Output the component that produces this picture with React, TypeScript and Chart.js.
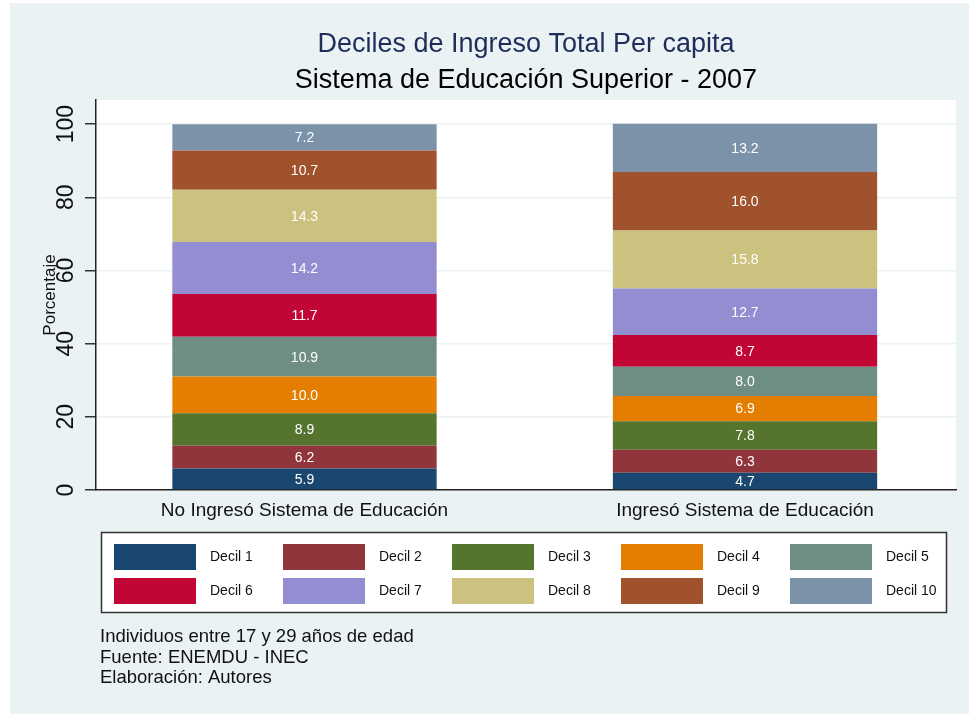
import React, { useEffect, useRef } from "react";
import { Chart, registerables } from "chart.js";

Chart.register(...registerables);

const categories = ["No Ingresó Sistema de Educación", "Ingresó Sistema de Educación"];
const categoryPositions = [1, 2];
const deciles = ["Decil 1", "Decil 2", "Decil 3", "Decil 4", "Decil 5", "Decil 6", "Decil 7", "Decil 8", "Decil 9", "Decil 10"];
const noIngreso = [5.9, 6.2, 8.9, 10.0, 10.9, 11.7, 14.2, 14.3, 10.7, 7.2];
const ingreso = [4.7, 6.3, 7.8, 6.9, 8.0, 8.7, 12.7, 15.8, 16.0, 13.2];
const colors = ["#1a476f", "#90353b", "#55752f", "#e37e00", "#6e8e84", "#c10534", "#938dd2", "#cac27e", "#a0522d", "#7b92a8"];
const yTicks = [0, 20, 40, 60, 80, 100];
const titleText = "Deciles de Ingreso Total Per capita";
const subtitleText = "Sistema de Educación Superior - 2007";
const yTitle = "Porcentaje";
const notes = ["Individuos entre 17 y 29 años de edad", "Fuente: ENEMDU - INEC", "Elaboración: Autores"];

const FONT = '"Liberation Sans", Arial, Helvetica, sans-serif';
const BG = "#eaf2f3";

const decorPlugin = {
  id: "decor",
  beforeDraw(chart: any) {
    const { ctx, chartArea } = chart;
    ctx.save();
    ctx.fillStyle = "#ffffff";
    ctx.fillRect(0, 0, chart.width, chart.height);
    ctx.fillStyle = BG;
    ctx.fillRect(10, 3, chart.width - 10, 711);
    ctx.fillStyle = "#ffffff";
    ctx.fillRect(chartArea.left, chartArea.top, chartArea.right - chartArea.left, chartArea.bottom - chartArea.top);
    ctx.restore();
  },
  afterDraw(chart: any) {
    const { ctx, chartArea } = chart;
    const cx = (chartArea.left + chartArea.right) / 2;
    ctx.save();
    // titles
    ctx.textAlign = "center";
    ctx.textBaseline = "middle";
    ctx.font = `27px ${FONT}`;
    ctx.fillStyle = "#1e2d5a";
    ctx.fillText(titleText, cx, 45);
    ctx.fillStyle = "#000000";
    ctx.fillText(subtitleText, cx, 81);

    // y tick labels (rotated)
    const ys = chart.scales.y;
    ctx.font = `23px ${FONT}`;
    ctx.fillStyle = "#111111";
    ys.ticks.forEach((t: any) => {
      const py = ys.getPixelForValue(t.value);
      ctx.save();
      ctx.translate(67, py);
      ctx.rotate(-Math.PI / 2);
      ctx.fillText(String(t.value), 0, 0);
      ctx.restore();
    });
    // y title
    ctx.save();
    ctx.font = `17px ${FONT}`;
    ctx.translate(50, (chartArea.top + chartArea.bottom) / 2);
    ctx.rotate(-Math.PI / 2);
    ctx.fillText(yTitle, 0, 0);
    ctx.restore();

    // legend
    ctx.fillStyle = "#ffffff";
    ctx.fillRect(101, 532, 845, 80);
    ctx.strokeStyle = "#333333";
    ctx.lineWidth = 1.5;
    ctx.strokeRect(101.5, 532.5, 845, 80);
    ctx.font = `14px ${FONT}`;
    ctx.textAlign = "left";
    chart.data.datasets.forEach((ds: any, i: number) => {
      const col = i % 5;
      const row = Math.floor(i / 5);
      const sx = 114 + col * 169;
      const sy = 544 + row * 34;
      ctx.fillStyle = ds.backgroundColor;
      ctx.fillRect(sx, sy, 82, 26);
      ctx.fillStyle = "#111111";
      ctx.fillText(ds.label, 210 + col * 169, sy + 13.5);
    });

    // notes
    ctx.font = `18.5px ${FONT}`;
    ctx.fillStyle = "#111111";
    notes.forEach((n, i) => ctx.fillText(n, 100, 637 + i * 20.5));
    ctx.restore();
  },
  afterDatasetsDraw(chart: any) {
    const { ctx } = chart;
    ctx.save();
    ctx.font = `14px ${FONT}`;
    ctx.fillStyle = "#ffffff";
    ctx.textAlign = "center";
    ctx.textBaseline = "middle";
    chart.data.datasets.forEach((ds: any, i: number) => {
      const meta = chart.getDatasetMeta(i);
      meta.data.forEach((el: any, j: number) => {
        const v = ds.data[j].y;
        ctx.fillText(v.toFixed(1), el.x, (el.y + el.base) / 2 + 1);
      });
    });
    ctx.restore();
  },
};

export default function App() {
  const ref = useRef<HTMLCanvasElement | null>(null);
  useEffect(() => {
    if (!ref.current) return;
    const chart = new Chart(ref.current, {
      type: "bar",
      data: {
        datasets: deciles.map((label, i) => ({
          label,
          data: categoryPositions.map((x, j) => ({ x, y: j === 0 ? noIngreso[i] : ingreso[i] })),
          backgroundColor: colors[i],
          borderWidth: 0,
          categoryPercentage: 1,
          barPercentage: 0.6,
        })),
      } as any,
      options: {
        animation: false,
        responsive: false,
        devicePixelRatio: 1,
        layout: { padding: { left: 10, right: 13, top: 100, bottom: 185 } },
        plugins: { legend: { display: false }, title: { display: false }, tooltip: { enabled: false } },
        scales: {
          x: {
            type: "linear",
            stacked: true,
            offset: false,
            bounds: "data",
            min: 0.5267,
            max: 2.479,
            afterBuildTicks: (s: any) => {
              s.ticks = categoryPositions.map((v) => ({ value: v }));
            },
            afterFit: (s: any) => {
              s.height = 40;
            },
            grid: { display: false, drawTicks: false, offset: false },
            border: { display: true, color: "#222222", width: 1.5 },
            ticks: {
              autoSkip: false,
              maxRotation: 0,
              padding: 9,
              color: "#111111",
              font: { family: FONT, size: 19 },
              callback: (v: any) => categories[categoryPositions.indexOf(Number(v))] ?? "",
            },
          },
          y: {
            stacked: true,
            min: 0,
            max: 106.6,
            afterBuildTicks: (s: any) => {
              s.ticks = yTicks.map((v) => ({ value: v }));
            },
            afterFit: (s: any) => {
              s.width = 86;
            },
            grid: { color: BG, lineWidth: 1.5, tickColor: "#333333", tickLength: 11, drawTicks: true },
            border: { display: true, color: "#222222", width: 1.5 },
            ticks: { display: false },
          },
        },
      } as any,
      plugins: [decorPlugin],
    });
    return () => chart.destroy();
  }, []);
  return (
    <div style={{ position: "fixed", left: 0, top: 0, width: 969, height: 715 }}>
      <canvas ref={ref} width={969} height={715} style={{ display: "block" }} />
    </div>
  );
}
